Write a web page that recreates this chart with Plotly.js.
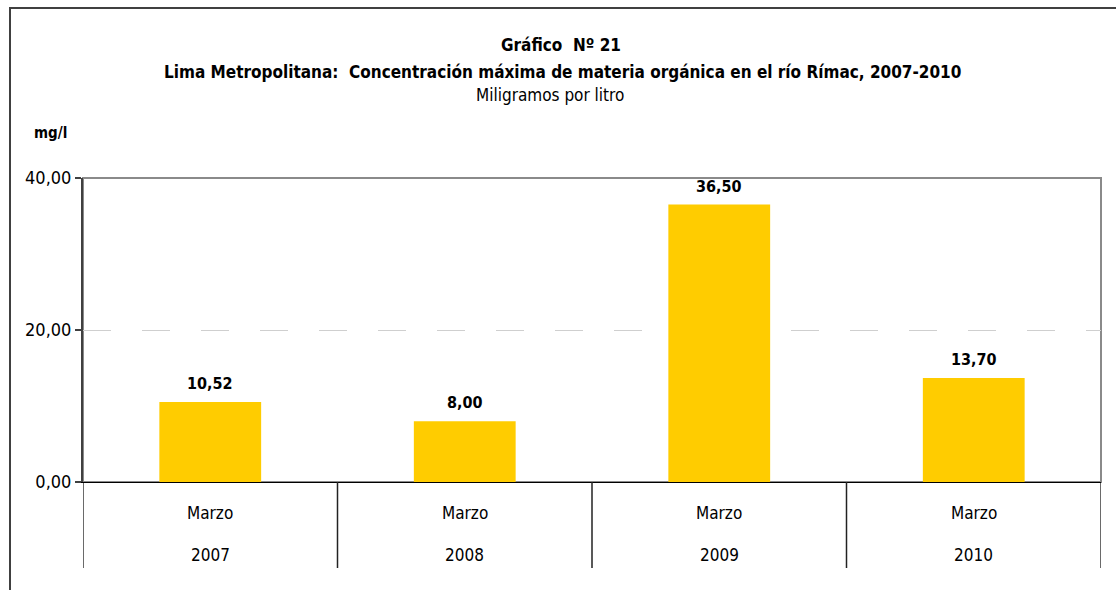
<!DOCTYPE html>
<html>
<head>
<meta charset="utf-8">
<script src="https://cdn.plot.ly/plotly-3.0.1.min.js"></script>
<style>html,body{margin:0;padding:0;background:#fff;}#chart{width:1116px;height:590px;}</style>
</head>
<body>
<div id="chart"></div>
<script>
var years = ["2007", "2008", "2009", "2010"];
var months = ["Marzo", "Marzo", "Marzo", "Marzo"];
var values = [10.52, 8.00, 36.50, 13.70];
var yTicks = [0, 20, 40];
var titleLines = ["Gráfico  Nº 21",
  "Lima Metropolitana:  Concentración máxima de materia orgánica en el río Rímac, 2007-2010",
  "Miligramos por litro"];
var unitLabel = "mg/l";

var FONT = '"Liberation Sans Narrow", "Arial Narrow", "DejaVu Sans Condensed", sans-serif';

var trace = {
  type: 'bar',
  x: years,
  y: values,
  width: 0.4,
  marker: {color: '#FFCC00', line: {width: 0}},
  hoverinfo: 'skip'
};

var annotations = [];
var titleY = [45, 72, 95];
var titleBold = [true, true, false];
var titleX = [561, 562, 550];
for (var i = 0; i < titleLines.length; i++) {
  annotations.push({
    xref: 'paper', yref: 'paper',
    x: (titleX[i] - 83) / 1018, y: (482 - titleY[i]) / 304,
    xanchor: 'center', yanchor: 'middle', showarrow: false,
    text: titleBold[i] ? '<b>' + titleLines[i] + '</b>' : titleLines[i],
    font: {family: FONT, size: 17, color: '#000'}
  });
}
annotations.push({
  xref: 'paper', yref: 'paper', x: (50 - 83) / 1018, y: (482 - 133) / 304,
  xanchor: 'center', yanchor: 'middle', showarrow: false,
  text: '<b>' + unitLabel + '</b>', font: {family: FONT, size: 15, color: '#000'}
});
var shapes = [
  {type: 'rect', xref: 'paper', yref: 'paper', x0: 0, x1: 1, y0: 0, y1: 1,
   line: {color: '#8a8a8a', width: 2}, layer: 'below'},
  {type: 'rect', xref: 'paper', yref: 'paper',
   x0: (10 - 83) / 1018, x1: (1130 - 83) / 1018,
   y0: (482 - 600) / 304, y1: (482 - 8) / 304,
   line: {color: '#404040', width: 2}, layer: 'below'}
];
for (var j = 0; j < values.length; j++) {
  annotations.push({
    xref: 'x', yref: 'y', x: j, y: values[j],
    xanchor: 'center', yanchor: 'bottom', yshift: 7, showarrow: false,
    text: '<b>' + values[j].toFixed(2).replace('.', ',') + '</b>',
    font: {family: FONT, size: 16, color: '#000'}
  });
  annotations.push({
    xref: 'x', yref: 'paper', x: j, y: (482 - 513) / 304,
    xanchor: 'center', yanchor: 'middle', showarrow: false,
    text: months[j], font: {family: FONT, size: 17, color: '#000'}
  });
  annotations.push({
    xref: 'x', yref: 'paper', x: j, y: (482 - 555) / 304,
    xanchor: 'center', yanchor: 'middle', showarrow: false,
    text: years[j], font: {family: FONT, size: 17, color: '#000'}
  });
}
for (var k = 0; k <= years.length; k++) {
  var edge = (k === 0 || k === years.length);
  shapes.push({
    type: 'line', xref: 'x', yref: 'paper', x0: k - 0.5, x1: k - 0.5,
    y0: edge ? -0.003 : 0, y1: (482 - 568) / 304,
    line: {color: edge ? '#6a6a6a' : '#222', width: edge ? 2 : 1.5}
  });
}

var layout = {
  width: 1116, height: 590,
  margin: {l: 83, r: 15, t: 178, b: 108, pad: 0},
  paper_bgcolor: '#fff', plot_bgcolor: '#fff',
  separators: ',.',
  showlegend: false,
  font: {family: FONT, size: 17, color: '#000'},
  xaxis: {
    type: 'category', range: [-0.5, 3.5],
    showline: true, linecolor: '#000', linewidth: 1,
    ticks: '', showgrid: false, showticklabels: false,
    fixedrange: true
  },
  yaxis: {
    range: [0, 40], tickvals: yTicks, tickformat: '.2f',
    showline: true, linecolor: '#404040', linewidth: 2,
    ticks: 'outside', ticklen: 6, tickcolor: '#404040', tickwidth: 1.5,
    showgrid: true, gridcolor: '#cfcfcf', gridwidth: 1, griddash: '28px,31px',
    zeroline: false,
    tickfont: {family: FONT, size: 18, color: '#000'},
    fixedrange: true
  },
  shapes: shapes,
  annotations: annotations
};

Plotly.newPlot('chart', [trace], layout, {displayModeBar: false, staticPlot: true});
</script>
</body>
</html>
